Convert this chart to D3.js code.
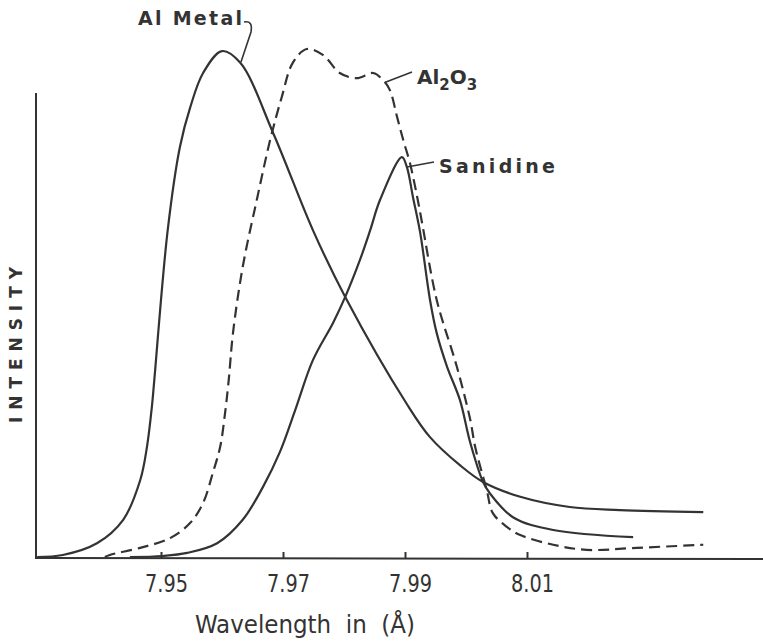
<!DOCTYPE html>
<html>
<head>
<meta charset="utf-8">
<script src="https://cdn.jsdelivr.net/npm/d3@7"></script>
<style>
  body { margin: 0; background: #fff; }
  svg text { fill: #333; }
</style>
</head>
<body>
<div id="chart"></div>
<script>
// Wavelength (Å) and relative intensity
const alMetalWave = [7.9297, 7.9339, 7.9395, 7.9438, 7.9466, 7.9477, 7.9485, 7.9489, 7.9511, 7.9531, 7.9548, 7.9569, 7.9600, 7.9630, 7.9684, 7.9749, 7.9802, 7.9903, 7.9941, 7.9990, 8.0028, 8.0089, 8.0170, 8.0252, 8.0389];
const alMetalInt = [0, 0.4, 2.7, 7.3, 15.1, 21.6, 29.4, 34.7, 64.1, 80.4, 88.2, 94.9, 99.2, 96.9, 83.1, 64.1, 51.0, 30.0, 23.5, 18.0, 14.7, 11.8, 9.8, 9.2, 8.8];

const al2o3Wave = [7.9408, 7.9416, 7.9466, 7.9515, 7.9548, 7.9569, 7.9585, 7.9597, 7.9605, 7.9611, 7.9618, 7.9634, 7.9657, 7.9679, 7.9698, 7.9716, 7.9739, 7.9766, 7.9793, 7.9821, 7.9848, 7.9864, 7.9875, 7.9887, 7.9897, 7.9908, 7.9920, 7.9928, 7.9952, 7.9985, 8.0007, 8.0015, 8.0034, 8.0044, 8.0067, 8.0089, 8.0143, 8.0198, 8.0280, 8.0389];
const al2o3Int = [0, 0.4, 1.8, 3.7, 6.7, 10.6, 16.5, 21.6, 28.2, 34.7, 43.9, 56.9, 70.0, 81.8, 90.2, 96.9, 99.6, 98.4, 94.9, 93.9, 94.9, 93.5, 91.6, 86.3, 81.8, 77.3, 70.6, 65.5, 50.4, 37.3, 26.9, 21.6, 13.1, 8.6, 5.9, 4.3, 2.4, 1.4, 1.8, 2.4];

const sanidineWave = [7.9449, 7.9503, 7.9543, 7.9592, 7.9634, 7.9667, 7.9695, 7.9720, 7.9749, 7.9782, 7.9802, 7.9826, 7.9843, 7.9859, 7.9895, 7.9903, 7.9913, 7.9925, 7.9941, 7.9952, 7.9969, 7.9990, 8.0007, 8.0028, 8.0039, 8.0077, 8.0143, 8.0274];
const sanidineInt = [0, 0.2, 0.8, 2.7, 7.3, 13.7, 20.6, 28.8, 38.6, 45.9, 51.0, 58.2, 64.1, 70.0, 78.4, 76.5, 70.6, 63.5, 50.4, 43.9, 37.3, 30.8, 22.4, 14.7, 12.5, 7.8, 5.3, 3.9];

const tickValues = [7.95, 7.97, 7.99, 8.01];

const width = 763;
const height = 642;
const ink = '#333';

const svg = d3.select('#chart')
              .append('svg')
              .attr('width', width)
              .attr('height', height);

const x = d3.scaleLinear().domain([7.95, 8.01]).range([161, 527]);
const y = d3.scaleLinear().domain([0, 100]).range([557, 47]);

// axes lines (the plot has no frame, just an L)
svg.append('line')
   .attr('x1', 36).attr('x2', 36)
   .attr('y1', 93).attr('y2', 558)
   .attr('stroke', ink).attr('stroke-width', 2);
svg.append('line')
   .attr('x1', 35).attr('x2', width)
   .attr('y1', 558).attr('y2', 559)
   .attr('stroke', ink).attr('stroke-width', 2);

// ticks point up into the plot
const xAxis = svg.append('g')
   .attr('transform', 'translate(0,558)')
   .call(d3.axisBottom(x).tickValues(tickValues).tickSize(-6).tickFormat(d3.format('.2f')));
xAxis.select('.domain').remove();
xAxis.selectAll('.tick line').attr('stroke', ink).attr('stroke-width', 2);
xAxis.selectAll('.tick text')
     .attr('y', 0)
     .attr('dy', 0)
     .attr('transform', 'translate(5,34)')
     .attr('font-family', '"DejaVu Sans Condensed", "DejaVu Sans"')
     .attr('font-size', 24)
     .attr('textLength', 43)
     .attr('lengthAdjust', 'spacingAndGlyphs')
     .style('fill', ink);

const line = d3.line()
               .x(d => x(d[0]))
               .y(d => y(d[1]))
               .curve(d3.curveCatmullRom.alpha(0.5));

const series = [
  { wave: alMetalWave, vals: alMetalInt, dash: null },
  { wave: al2o3Wave, vals: al2o3Int, dash: '11,6' },
  { wave: sanidineWave, vals: sanidineInt, dash: null }
];

series.forEach(s => {
  svg.append('path')
     .datum(d3.zip(s.wave, s.vals))
     .attr('d', line)
     .attr('fill', 'none')
     .attr('stroke', ink)
     .attr('stroke-width', 2.2)
     .attr('stroke-dasharray', s.dash);
});

// curve labels with little leader strokes
const labelFont = '"DejaVu Sans", sans-serif';

svg.append('text')
   .attr('x', 138).attr('y', 25)
   .attr('font-family', labelFont).attr('font-weight', 'bold')
   .attr('font-size', 19)
   .attr('textLength', 104).attr('lengthAdjust', 'spacing')
   .text('Al Metal');
svg.append('path')
   .attr('d', 'M244,22 Q253,20 251,32 L241,62')
   .attr('fill', 'none').attr('stroke', ink).attr('stroke-width', 1.6);

const oxide = svg.append('text')
   .attr('x', 417).attr('y', 84)
   .attr('font-family', labelFont).attr('font-weight', 'bold')
   .attr('font-size', 20);
oxide.append('tspan').text('Al');
oxide.append('tspan').attr('dy', 6).attr('font-size', 15).text('2');
oxide.append('tspan').attr('dy', -6).text('O');
oxide.append('tspan').attr('dy', 6).attr('font-size', 15).text('3');
svg.append('path')
   .attr('d', 'M386,82 L412,72')
   .attr('fill', 'none').attr('stroke', ink).attr('stroke-width', 1.6);

svg.append('text')
   .attr('x', 439).attr('y', 173)
   .attr('font-family', labelFont).attr('font-weight', 'bold')
   .attr('font-size', 19)
   .attr('textLength', 116).attr('lengthAdjust', 'spacing')
   .text('Sanidine');
svg.append('path')
   .attr('d', 'M407,167 L434,162')
   .attr('fill', 'none').attr('stroke', ink).attr('stroke-width', 1.6);

// axis titles
svg.append('text')
   .attr('transform', 'translate(22,345) rotate(-90)')
   .attr('text-anchor', 'middle')
   .attr('font-family', labelFont)
   .attr('font-weight', 'bold')
   .attr('font-size', 17)
   .attr('textLength', 156).attr('lengthAdjust', 'spacing')
   .text('INTENSITY');

svg.append('text')
   .attr('x', 305).attr('y', 633)
   .attr('text-anchor', 'middle')
   .attr('font-family', '"DejaVu Sans Condensed", "DejaVu Sans"')
   .attr('font-size', 25)
   .attr('textLength', 220).attr('lengthAdjust', 'spacingAndGlyphs')
   .attr('xml:space', 'preserve')
   .style('white-space', 'pre')
   .text('Wavelength  in  (Å)');
</script>
</body>
</html>
